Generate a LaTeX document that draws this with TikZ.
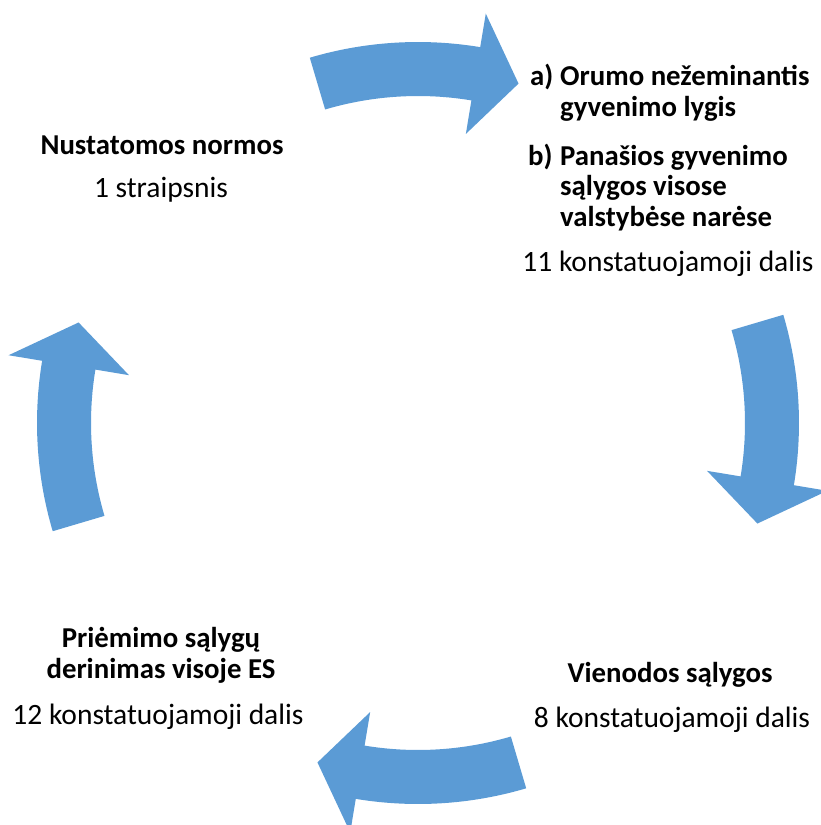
\documentclass[tikz,border=0pt]{standalone}
\usepackage{fontspec}
\setmainfont{Carlito}
\definecolor{arrowblue}{HTML}{5B9BD5}
\tikzset{
  headtxt/.style={font=\fontsize{28.8}{31}\selectfont\bfseries, inner sep=0pt, align=center},
  subtxt/.style={font=\fontsize{29.5}{31}\selectfont, inner sep=0pt, align=center},
  listtxt/.style={font=\fontsize{28.8}{30.5}\selectfont\bfseries, inner sep=0pt, align=left, anchor=base west},
  arrowfill/.style={fill=arrowblue, draw=none}
}
\newcommand{\cyclearrow}[1]{%
  \fill[arrowfill] ({-(#1+16.5)}:381) arc[start angle={-(#1+16.5)}, end angle={-(#1-9.4)}, radius=381]
    -- ({-(#1-9.4)}:415) -- ({-(#1-16.5)}:354) -- ({-(#1-9.4)}:293) -- ({-(#1-9.4)}:327)
    arc[start angle={-(#1-9.4)}, end angle={-(#1+16.5)}, radius=327] -- cycle;}
\begin{document}
\begin{tikzpicture}[x=1pt, y=-1pt]
\useasboundingbox (0,0) rectangle (821,825);
\begin{scope}[shift={(418,423)}]
  \cyclearrow{90}
  \cyclearrow{0}
  \cyclearrow{-90}
  \cyclearrow{-180}
\end{scope}
% top left
\node[headtxt, anchor=base] (n1) at (162,154) {Nustatomos normos};
\node[subtxt, anchor=base] (n1s) at (161,197) {1 straipsnis};
% top right (base anchor = last line)
\node[listtxt] (la) at (530,85) {a)};
\node[listtxt] (lat) at (560,116) {Orumo nežeminantis\\gyvenimo lygis};
\node[listtxt] (lb) at (528,165) {b)};
\node[listtxt] (lbt) at (560,226) {Panašios gyvenimo\\sąlygos visose\\valstybėse narėse};
\node[subtxt, anchor=base] (n2s) at (668,271) {11 konstatuojamoji dalis};
% bottom right
\node[headtxt, anchor=base] (n3) at (670,682) {Vienodos sąlygos};
\node[subtxt, anchor=base] (n3s) at (672,727) {8 konstatuojamoji dalis};
% bottom left
\node[headtxt, anchor=base] (n4) at (161,678) {Priėmimo sąlygų\\derinimas visoje ES};
\node[subtxt, anchor=base] (n4s) at (158,724) {12 konstatuojamoji dalis};
\end{tikzpicture}
\end{document}
